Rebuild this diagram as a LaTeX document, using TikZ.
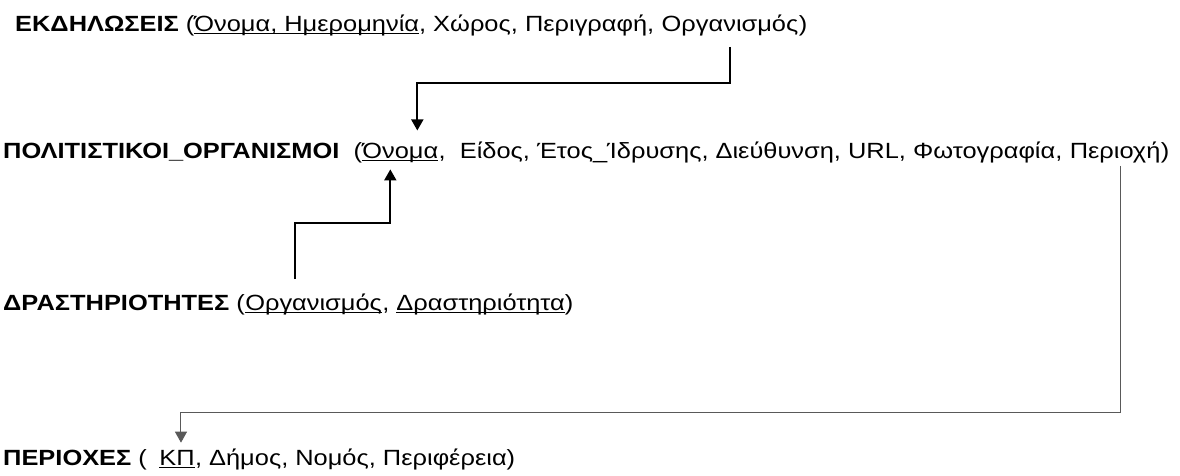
\documentclass[tikz,border=0pt]{standalone}
\usepackage{fontspec}
\setmainfont[FakeStretch=1.155]{Liberation Sans}
\usetikzlibrary{positioning,arrows.meta}
\newsavebox\pkbox
\newcommand{\pkline}[1]{\sbox\pkbox{#1}\rlap{\rule[-3pt]{\wd\pkbox}{1.2pt}}\usebox\pkbox}
\begin{document}
\begin{tikzpicture}[x=1pt,y=-1pt]
      \tikzstyle{rel}=[inner sep=0pt,font=\fontsize{22}{26}\selectfont]
      \tikzstyle{fk}=[draw,line width=1.8pt,-{Triangle[length=11pt,width=12pt]}]
      \tikzstyle{fkthin}=[draw,black!65,line width=1pt,-{Triangle[length=11pt,width=12pt]}]
      \useasboundingbox (0,0) rectangle (1180,475);
      % ΕΚΔΗΛΩΣΕΙΣ
      \node[rel,anchor=base west] (ekd) at (15,31) {\textbf{ΕΚΔΗΛΩΣΕΙΣ} (\pkline{Όνομα, Ημερομηνία}, Χώρος, Περιγραφή,};
      \node[rel,base right=7pt of ekd] (ekdorg) {Οργανισμός};
      \node[rel,base right=0pt of ekdorg] (ekdend) {)};
      % ΠΟΛΙΤΙΣΤΙΚΟΙ_ΟΡΓΑΝΙΣΜΟΙ
      \node[rel,anchor=base west] (pol) at (3,158) {\textbf{ΠΟΛΙΤΙΣΤΙΚΟΙ\_ΟΡΓΑΝΙΣΜΟΙ}\ \ (};
      \node[rel,base right=0pt of pol] (polname) {\pkline{Όνομα}};
      \node[rel,base right=0pt of polname] (polmid) {, \ Είδος, Έτος\_Ίδρυσης, Διεύθυνση, URL, Φωτογραφία,};
      \node[rel,base right=7pt of polmid] (polreg) {Περιοχή};
      \node[rel,base right=0pt of polreg] (polend) {)};
      % ΔΡΑΣΤΗΡΙΟΤΗΤΕΣ
      \node[rel,anchor=base west] (dra) at (3,310) {\textbf{ΔΡΑΣΤΗΡΙΟΤΗΤΕΣ} (};
      \node[rel,base right=0pt of dra] (draorg) {\pkline{Οργανισμός}};
      \node[rel,base right=0pt of draorg] (draend) {, \pkline{Δραστηριότητα})};
      % ΠΕΡΙΟΧΕΣ
      \node[rel,anchor=base west] (per) at (3,465) {\textbf{ΠΕΡΙΟΧΕΣ} (};
      \node[rel,base right=12pt of per] (perkp) {\pkline{ΚΠ}};
      \node[rel,base right=0pt of perkp] (perend) {, Δήμος, Νομός, Περιφέρεια)};
      % foreign keys
      \path[fk] ([yshift=-11pt]ekdorg.south) -- ++(0,36) -| ([xshift=17pt,yshift=12pt]polname.north);
      \path[fk] ([xshift=-19pt,yshift=14pt]draorg.north) -- ++(0,-56) -| ([xshift=-10pt,yshift=-7pt]polname.south);
      \path[fkthin] ([xshift=5pt,yshift=-3pt]polreg.south) -- ++(0,247) -| ([xshift=4pt,yshift=7pt]perkp.north);
\end{tikzpicture}
\end{document}
